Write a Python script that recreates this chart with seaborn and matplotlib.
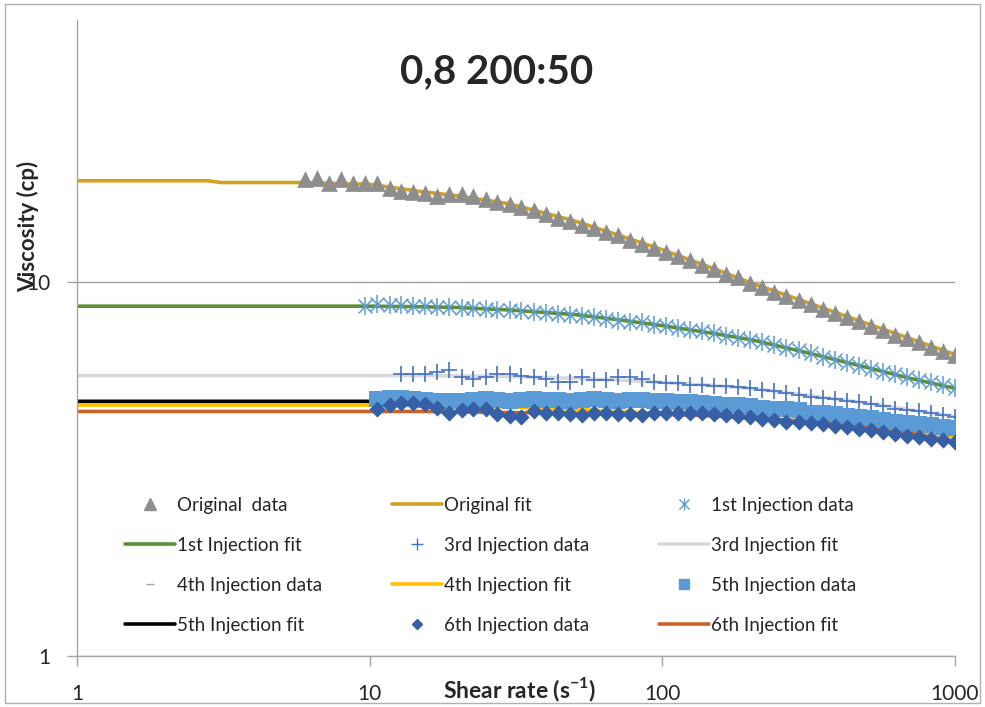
import matplotlib
matplotlib.use("Agg")
import matplotlib.pyplot as plt
import seaborn as sns
from matplotlib.lines import Line2D
from matplotlib.patches import Rectangle

# shear rate grid of the rheometer (s-1)
shear_rate = [6.00, 6.60, 7.25, 7.97, 8.76, 9.63, 10.6, 11.7, 12.8, 14.1,
              15.5, 17.0, 18.7, 20.6, 22.6, 24.9, 27.3, 30.1, 33.0, 36.3,
              39.9, 43.9, 48.3, 53.1, 58.3, 64.1, 70.5, 77.5, 85.2, 93.7,
              103.0, 113.2, 124.5, 136.8, 150.4, 165.4, 181.8, 199.8, 219.8, 241.5,
              265.6, 292.0, 321.0, 352.8, 388.0, 426.5, 469.0, 515.5, 566.8, 623.1,
              685.0, 753.1, 827.9, 910.2, 1000.0]

orig_data = [18.8, 18.9, 18.3, 18.8, 18.3, 18.3, 18.4, 17.8, 17.5, 17.4,
             17.2, 16.9, 17.1, 17.1, 16.9, 16.6, 16.3, 16.1, 15.8, 15.5,
             15.2, 14.8, 14.5, 14.2, 13.9, 13.6, 13.3, 12.9, 12.6, 12.3,
             12.0, 11.7, 11.4, 11.1, 10.8, 10.5, 10.3, 9.94, 9.70, 9.40,
             9.18, 8.95, 8.73, 8.47, 8.27, 8.07, 7.87, 7.63, 7.45, 7.22,
             7.05, 6.88, 6.67, 6.51, 6.35]
# 1st injection starts at shear_rate[5]
inj1_data = [8.63, 8.73, 8.68, 8.68, 8.63, 8.63, 8.58, 8.58, 8.53, 8.53,
             8.47, 8.42, 8.42, 8.37, 8.32, 8.27, 8.22, 8.17, 8.11, 8.07,
             7.97, 7.87, 7.82, 7.78, 7.68, 7.63, 7.54, 7.45, 7.36, 7.27,
             7.18, 7.09, 7.00, 6.92, 6.79, 6.63, 6.55, 6.43, 6.31, 6.19,
             6.08, 5.97, 5.86, 5.75, 5.65, 5.55, 5.45, 5.38, 5.28, 5.19]
# 3rd injection starts at shear_rate[8]
inj3_data = [5.68, 5.68, 5.65, 5.72, 5.79, 5.58, 5.51, 5.55, 5.68, 5.65,
             5.61, 5.55, 5.51, 5.41, 5.41, 5.58, 5.45, 5.45, 5.58, 5.55,
             5.48, 5.38, 5.35, 5.35, 5.31, 5.28, 5.25, 5.25, 5.22, 5.19,
             5.15, 5.09, 5.03, 4.97, 4.93, 4.90, 4.85, 4.79, 4.76, 4.70,
             4.64, 4.58, 4.53, 4.50, 4.45, 4.39, 4.34]
# 4th injection (sits under the 5th injection squares)
inj4_rate = [10.6, 14.1, 18.7, 24.9, 33.0, 43.9, 58.3, 77.5, 103.0, 136.8,
             181.8, 241.5, 321.0, 426.5, 566.8, 753.1, 1000.0]
inj4_data = [4.80, 4.80, 4.79, 4.80, 4.79, 4.78, 4.77, 4.75, 4.73, 4.68,
             4.62, 4.55, 4.47, 4.37, 4.27, 4.16, 4.06]
# 5th and 6th injections start at shear_rate[6]
inj5_data = [4.85, 4.90, 4.88, 4.85, 4.82, 4.79, 4.79, 4.79, 4.82, 4.85,
             4.82, 4.79, 4.82, 4.85, 4.82, 4.82, 4.79, 4.82, 4.85, 4.82,
             4.79, 4.82, 4.82, 4.79, 4.79,
             4.76, 4.76, 4.73, 4.70, 4.67, 4.67, 4.64, 4.61, 4.58, 4.56,
             4.53, 4.47, 4.45, 4.42, 4.37, 4.34, 4.31, 4.26, 4.23, 4.18,
             4.16, 4.13, 4.08, 4.06]
inj6_data = [4.58, 4.67, 4.73, 4.73, 4.70, 4.61, 4.45, 4.53, 4.58, 4.56,
             4.42, 4.37, 4.34, 4.50, 4.45, 4.45, 4.42, 4.39, 4.45, 4.47,
             4.42, 4.42, 4.39, 4.45, 4.47, 4.47, 4.47, 4.45, 4.42, 4.39,
             4.37, 4.34, 4.29, 4.26, 4.23, 4.21, 4.18, 4.16, 4.11, 4.08,
             4.03, 4.01, 3.96, 3.91, 3.88, 3.84, 3.81, 3.77, 3.72]

# model fits
fit_rate = [1, 2.8, 3.1, 6, 10, 15, 20, 30, 50, 70, 100, 150, 200, 300, 500, 700, 1000]
orig_fit = [18.6, 18.6, 18.4, 18.4, 18.2, 17.4, 16.96, 16.14, 14.54, 13.35, 12.17, 10.83, 9.94, 8.90, 7.73, 7.05, 6.39]
inj1_fit = [8.6, 8.6, 8.6, 8.6, 8.6, 8.57, 8.53, 8.40, 8.17, 7.92, 7.63, 7.27, 7.00, 6.51, 5.90, 5.52, 5.19]
inj3_fit = [5.61, 5.61, 5.61, 5.61, 5.61, 5.61, 5.60, 5.58, 5.52, 5.46, 5.38, 5.28, 5.19, 4.99, 4.74, 4.55, 4.36]
inj4_fit = [4.68, 4.68, 4.68, 4.68, 4.68, 4.67, 4.66, 4.62, 4.56, 4.50, 4.45, 4.38, 4.33, 4.24, 4.10, 3.98, 3.85]
inj5_fit = [4.79, 4.79, 4.79, 4.79, 4.79, 4.80, 4.80, 4.80, 4.80, 4.79, 4.77, 4.72, 4.66, 4.57, 4.40, 4.26, 4.08]
inj6_fit = [4.50, 4.50, 4.50, 4.50, 4.50, 4.50, 4.49, 4.47, 4.45, 4.44, 4.42, 4.38, 4.33, 4.24, 4.08, 3.94, 3.74]

sns.set_style("white")
plt.rcParams['font.family'] = ['Lato', 'DejaVu Sans']
plt.rcParams['mathtext.fontset'] = 'custom'
plt.rcParams['mathtext.rm'] = 'Lato'
plt.rcParams['mathtext.bf'] = 'Lato:bold'

c_tri = '#8E8E8E'
c_gold = '#D4A021'
c_green = '#5B8F3A'
c_ast = '#5B9BD5'
c_plus = '#4472C4'
c_lgray = '#D9D9D9'
c_yellow = '#FFC000'
c_sq = '#5B9BD5'
c_dia = '#375FA5'
c_orange = '#C8642A'

fig = plt.figure(figsize=(9.85, 7.07), dpi=100)
ax = fig.add_axes([77/985, 51/707, 878/985, 636/707])

# fits
for vals, col in [(orig_fit, c_gold), (inj1_fit, c_green), (inj3_fit, c_lgray),
                  (inj4_fit, c_yellow), (inj5_fit, 'black'), (inj6_fit, c_orange)]:
    sns.lineplot(x=fit_rate, y=vals, color=col, lw=2.6, ax=ax, zorder=2)

# data
sns.scatterplot(x=shear_rate, y=orig_data, marker='^', s=145, color=c_tri, linewidth=0, ax=ax, zorder=3)
sns.scatterplot(x=shear_rate[5:], y=inj1_data, marker='x', s=100, color=c_ast, linewidth=1.1, ax=ax, zorder=3)
sns.scatterplot(x=shear_rate[5:], y=inj1_data, marker='|', s=160, color=c_ast, linewidth=1.1, ax=ax, zorder=3)
sns.scatterplot(x=shear_rate[8:], y=inj3_data, marker='+', s=130, color=c_plus, linewidth=1.2, ax=ax, zorder=3)
sns.scatterplot(x=inj4_rate, y=inj4_data, marker='_', s=40, color='#A5A5A5', linewidth=1.2, ax=ax, zorder=3)
sns.scatterplot(x=shear_rate[6:], y=inj5_data, marker='s', s=130, color=c_sq, linewidth=0, ax=ax, zorder=3)
sns.scatterplot(x=shear_rate[6:], y=inj6_data, marker='D', s=68, color=c_dia, linewidth=0, ax=ax, zorder=4)

ax.set_xscale('log')
ax.set_yscale('log')
ax.set_xlim(1, 1000)
ax.set_ylim(1, 50)
ax.set_xticks([1, 10, 100, 1000])
ax.set_xticklabels(['1', '10', '100', '1000'])
ax.set_yticks([1, 10])
ax.set_yticklabels(['1', '10'])
ax.minorticks_off()
ax.yaxis.grid(True, color='#A0A0A0', lw=1)
ax.xaxis.grid(False)
for s in ['top', 'right']:
    ax.spines[s].set_visible(False)
for s in ['left', 'bottom']:
    ax.spines[s].set_color('#A6A6A6')
    ax.spines[s].set_linewidth(1)
ax.tick_params(axis='x', direction='out', length=7, width=1, color='#A6A6A6', labelsize=15, pad=13, bottom=True)
ax.tick_params(axis='y', direction='out', length=7, width=1, color='#A6A6A6', labelsize=15, pad=12, left=True)

ax.set_xlabel(r'Shear rate (s$^{\mathbf{-1}}$)', fontsize=16.5, fontweight='bold', va='center')
ax.xaxis.set_label_coords(0.504, -0.0535)
ax.set_ylabel('Viscosity (cp)', fontsize=16, fontweight='bold', va='center')
ax.yaxis.set_label_coords(-0.0558, 0.676)

fig.text(497/985, 1 - 72/707, '0,8 200:50', ha='center', va='center', fontsize=29, fontweight='bold')

# legend
h = {
    'Original  data': Line2D([], [], marker='^', ls='none', color=c_tri, markersize=9),
    'Original fit': Line2D([], [], color=c_gold, lw=2.6),
    '1st Injection data': (Line2D([], [], marker='x', ls='none', color=c_ast, markersize=7),
                           Line2D([], [], marker='|', ls='none', color=c_ast, markersize=9)),
    '1st Injection fit': Line2D([], [], color=c_green, lw=2.6),
    '3rd Injection data': Line2D([], [], marker='+', ls='none', color=c_plus, markersize=9),
    '3rd Injection fit': Line2D([], [], color=c_lgray, lw=2.6),
    '4th Injection data': Line2D([], [], marker='_', ls='none', color='#A5A5A5', markersize=6),
    '4th Injection fit': Line2D([], [], color=c_yellow, lw=2.6),
    '5th Injection data': Line2D([], [], marker='s', ls='none', color=c_sq, markersize=7.5),
    '5th Injection fit': Line2D([], [], color='black', lw=2.6),
    '6th Injection data': Line2D([], [], marker='D', ls='none', color=c_dia, markersize=5.5),
    '6th Injection fit': Line2D([], [], color=c_orange, lw=2.6),
}
order = ['Original  data', '1st Injection fit', '4th Injection data', '5th Injection fit',
         'Original fit', '3rd Injection data', '4th Injection fit', '6th Injection data',
         '1st Injection data', '3rd Injection fit', '5th Injection data', '6th Injection fit']
ax.legend([h[k] for k in order], order, ncol=3, loc='upper left',
          bbox_to_anchor=(125/985, 1 - 497/707), bbox_transform=fig.transFigure,
          frameon=False, borderpad=0, borderaxespad=0, handlelength=2.67,
          handletextpad=0.12, columnspacing=3.7, labelspacing=1.22, fontsize=13.5)

fig.patches.append(Rectangle((5/985, 4/707), 975/985, 699/707, transform=fig.transFigure,
                             fill=False, edgecolor='#B0B0B0', lw=1))

fig.savefig('out.png', dpi=100)
